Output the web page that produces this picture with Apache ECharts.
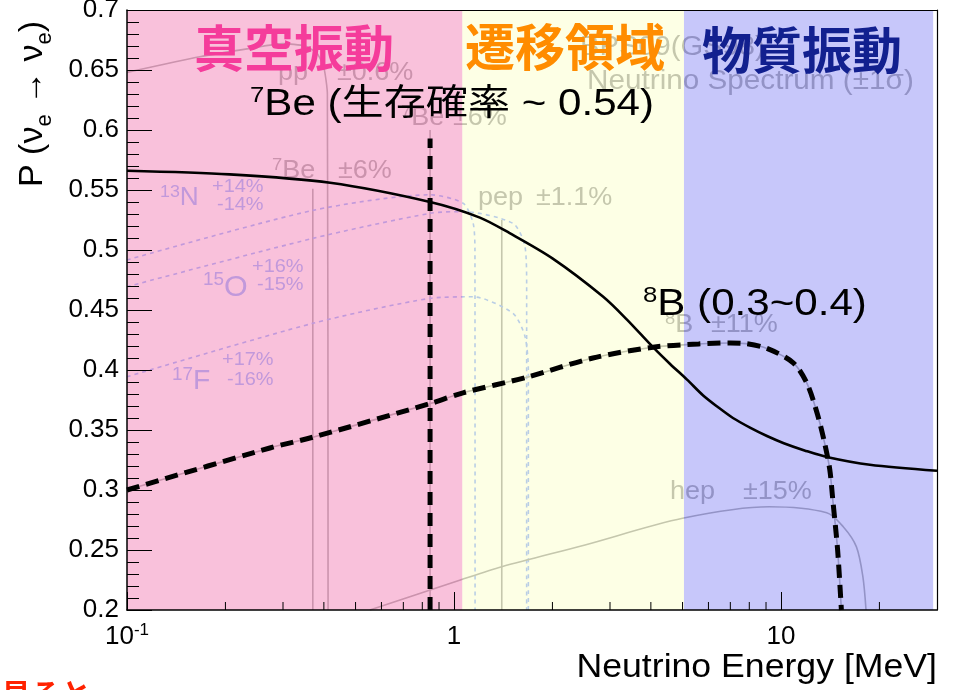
<!DOCTYPE html>
<html>
<head>
<meta charset="utf-8">
<script src="https://cdn.jsdelivr.net/npm/echarts@6/dist/echarts.min.js"></script>
<style>
  html, body { margin: 0; padding: 0; background: #fff; }
  #chart { width: 960px; height: 690px; }
</style>
</head>
<body>
<div id="chart"></div>
<script>
// ---- electron-neutrino survival probability P(νe→νe) vs energy [MeV] ----
const survivalE = [0.1, 0.206, 0.418, 0.845, 1.2, 1.48, 2.0, 2.86, 3.38, 4.06, 4.58, 5.16, 5.77, 6.42, 7.13, 8.04, 9.06, 10.2, 11.8, 13.8, 18.7, 30];
const survivalP = [0.566, 0.563, 0.556, 0.540, 0.527, 0.514, 0.493, 0.461, 0.442, 0.419, 0.405, 0.392, 0.379, 0.369, 0.360, 0.352, 0.345, 0.339, 0.333, 0.3275, 0.321, 0.316];

// 8B spectrum shape (dashed)
const b8E = [0.1, 0.2735, 0.37, 0.845, 1.066, 1.67, 2.66, 4.06, 5.6, 7.0, 7.8, 9.06, 10.9, 12.0, 12.9, 13.6, 14.1, 14.4, 14.9, 15.3];
const b8P = [0.300, 0.335, 0.344, 0.372, 0.381, 0.394, 0.410, 0.419, 0.4217, 0.4225, 0.422, 0.418, 0.406, 0.389, 0.364, 0.339, 0.317, 0.292, 0.250, 0.200];

// 7Be line energy and the height of its marker
const be7E = 0.845;
const be7Span = [0.2, 0.593];

// background spectra (faint)
const ppE = [0.1, 0.167, 0.238, 0.3, 0.35, 0.381, 0.400, 0.410, 0.412];
const ppP = [0.648, 0.661, 0.668, 0.672, 0.670, 0.664, 0.652, 0.630, 0.2];
const be7LowE = 0.37,  be7LowSpan = [0.2, 0.551];
const be7HighSpan = [0.2, 0.600];
const pepE = 1.40,     pepSpan = [0.2, 0.525];
const n13E = [0.1, 0.37, 0.845, 1.066, 1.144, 1.159, 1.16];
const n13P = [0.4917, 0.533, 0.546, 0.539, 0.5225, 0.50, 0.2];
const o15E = [0.1, 0.37, 0.845, 1.066, 1.515, 1.649, 1.668, 1.668];
const o15P = [0.4694, 0.5097, 0.5306, 0.532, 0.5222, 0.5028, 0.47, 0.2];
const f17E = [0.1, 0.37, 0.845, 1.144, 1.515, 1.649, 1.688, 1.688];
const f17P = [0.3944, 0.4389, 0.4597, 0.461, 0.4472, 0.4278, 0.40, 0.2];
const hepE = [0.553, 1.046, 1.40, 2.5, 5.0, 9.2, 13.8, 15.5, 17.0, 17.8, 18.2];
const hepP = [0.2, 0.225, 0.236, 0.254, 0.2764, 0.286, 0.281, 0.2694, 0.2528, 0.2278, 0.2];

// energy regions: vacuum / transition / matter
const regionEdges = [0.1, 1.06, 5.05, 29.2];
const regionColors = ['rgba(240,100,165,0.40)', 'rgba(248,255,160,0.28)', 'rgba(85,85,240,0.33)'];

// axis ticks
const energyMinorTicks = [0.2, 0.3, 0.4, 0.5, 0.6, 0.7, 0.8, 0.9, 2, 3, 4, 5, 6, 7, 8, 9, 20];
const probMin = 0.2, probMax = 0.7, probStep = 0.05;
const energyMin = 0.1, energyMax = 30;

const LATIN = '"Liberation Sans", Arial, Helvetica, sans-serif';
const MIXED = '"Liberation Sans", "Noto Sans CJK JP", sans-serif';
const CJK = '"Noto Sans CJK JP", sans-serif';

const zip = (xs, ys) => xs.map((x, i) => [x, ys[i]]);
const vline = (e, span) => [[e, span[0]], [e, span[1]]];

const FAINT_GRAY = '#b2b2b2';
const FAINT_LAV = '#a2bcff';

function faintLine(data, color, opts) {
  opts = opts || {};
  return {
    type: 'line', data, z: 1, silent: true, symbol: 'none',
    smooth: opts.smooth || 0, animation: false,
    lineStyle: { color, width: opts.width || 1.6, type: opts.dash || 'solid' }
  };
}

// text helper: rich text with optional superscript
function txt(x, y, text, o) {
  const size = o.size;
  const rich = {
    b: { fontSize: size, fontFamily: o.family || LATIN, fontWeight: o.weight || 'normal', fill: o.color, color: o.color, lineHeight: Math.round(size * 1.15) },
    s: { fontSize: o.sup || Math.round(size * 0.62), fontFamily: LATIN, fill: o.color, color: o.color, verticalAlign: 'top', lineHeight: o.sup || Math.round(size * 0.62) }
  };
  return {
    type: 'text', x, y, z: o.z, scaleX: o.sx || 1, silent: true,
    style: {
      text, rich, fill: o.color, fontSize: size, fontFamily: o.family || LATIN, fontWeight: o.weight || 'normal',
      align: o.align || 'left', textAlign: o.align || 'left',
      verticalAlign: 'middle', textVerticalAlign: 'middle'
    }
  };
}

const faint = { color: FAINT_GRAY, size: 25, sup: 17, z: 1, sx: 1.08 };
const lav = { color: FAINT_LAV, size: 25, sup: 17, z: 1, sx: 1.05 };
const lavSmall = { color: FAINT_LAV, size: 19, z: 1, sx: 1.05 };

const graphics = [
  // spectrum annotations (underneath the shaded regions)
  txt(580, 48, '{b|BPS09(GS98)}', Object.assign({}, faint, { size: 27 })),
  txt(587, 82, '{b|Neutrino Spectrum (±1σ)}', Object.assign({}, faint, { size: 27, sx: 1.1 })),
  txt(278, 73, '{b|pp}', faint), txt(337, 73, '{b|±0.6%}', faint),
  txt(401, 118, '{s|7}{b|Be}', faint), txt(453, 118, '{b|±6%}', faint),
  txt(272, 171, '{s|7}{b|Be}', faint), txt(338, 171, '{b|±6%}', faint),
  txt(478, 198, '{b|pep}', faint), txt(536, 198, '{b|±1.1%}', faint),
  txt(665, 325, '{s|8}{b|B}', faint), txt(711, 325, '{b|±11%}', faint),
  txt(670, 492, '{b|hep}', faint), txt(743, 492, '{b|±15%}', faint),
  txt(160, 198, '{s|13}{b|N}', lav),
  txt(212, 187, '{b|+14%}', lavSmall), txt(217, 205, '{b|-14%}', lavSmall),
  txt(203, 288, '{s|15}{b|O}', Object.assign({}, lav, { size: 29, sup: 18 })),
  txt(252, 267, '{b|+16%}', lavSmall), txt(257, 285, '{b|-15%}', lavSmall),
  txt(172, 382, '{s|17}{b|F}', Object.assign({}, lav, { size: 27, sup: 18 })),
  txt(222, 360, '{b|+17%}', lavSmall), txt(227, 380, '{b|-16%}', lavSmall),

  // region titles
  txt(294, 48, '{b|真空振動}', { color: '#F53C9B', size: 50, family: CJK, weight: 'bold', align: 'center', z: 20 }),
  txt(565, 47, '{b|遷移領域}', { color: '#FF8C00', size: 50, family: CJK, weight: 'bold', align: 'center', z: 20 }),
  txt(802, 50, '{b|物質振動}', { color: '#12208F', size: 50, family: CJK, weight: 'bold', align: 'center', z: 20 }),

  // probability notes
  txt(250, 105, '{s|7}{b|Be (生存確率 ~ 0.54)}', { color: '#000', size: 36, sup: 22, family: MIXED, sx: 1.17, z: 20 }),
  txt(643, 305, '{s|8}{b|B (0.3~0.4)}', { color: '#000', size: 36, sup: 22, family: MIXED, sx: 1.17, z: 20 }),

  // axis titles
  {
    type: 'text', x: 937, y: 668, z: 20, scaleX: 1.08, silent: true,
    style: { text: 'Neutrino Energy [MeV]', fill: '#000', fontSize: 33, fontFamily: LATIN,
             align: 'right', textAlign: 'right', verticalAlign: 'middle', textVerticalAlign: 'middle' }
  },
  {
    type: 'text', x: 56, y: 187, z: 20, rotation: Math.PI / 2, silent: true,
    style: {
      text: '{a|P (ν}{e|e}{a| → ν}{e|e}{a|)}', fill: '#000', fontSize: 34, fontFamily: LATIN,
      align: 'left', textAlign: 'left', verticalAlign: 'bottom', textVerticalAlign: 'bottom',
      rich: {
        a: { fontSize: 34, fontFamily: LATIN, fill: '#000', lineHeight: 46 },
        e: { fontSize: 22, fontFamily: LATIN, fill: '#000', lineHeight: 22, verticalAlign: 'bottom' }
      }
    }
  },

  // red heading peeking in at the bottom edge
  txt(1, 694, '{b|見ると}', { color: '#FF2200', size: 30, family: CJK, weight: 'bold', z: 20 })
];

const chart = echarts.init(document.getElementById('chart'), null, { renderer: 'canvas' });

chart.setOption({
  animation: false,
  backgroundColor: '#fff',
  grid: { left: 127, right: 23, top: 10, bottom: 80, containLabel: false, outerBoundsMode: 'none' },
  xAxis: [
    {
      type: 'log', logBase: 10, min: energyMin, max: energyMax, zlevel: 1, z: 10,
      axisLine: { show: true, lineStyle: { color: '#000', width: 1.5 } },
      axisTick: { show: true, inside: true, length: 18, lineStyle: { color: '#000', width: 1 } },
      splitLine: { show: false }, minorTick: { show: false },
      axisLabel: {
        show: true, margin: 12, color: '#000', fontSize: 26, fontFamily: LATIN, lineHeight: 30,
        showMinLabel: true, showMaxLabel: true,
        formatter: v => {
          if (Math.abs(v - 0.1) < 1e-9) return '{m|10}{sup|-1}';
          if (Math.abs(v - 1) < 1e-9) return '{m|1}';
          if (Math.abs(v - 10) < 1e-9) return '{m|10}';
          return '';
        },
        rich: {
          m: { fontSize: 26, fontFamily: LATIN, color: '#000', lineHeight: 30 },
          sup: { fontSize: 17, fontFamily: LATIN, color: '#000', verticalAlign: 'top', lineHeight: 17 }
        }
      }
    },
    {
      type: 'log', logBase: 10, min: energyMin, max: energyMax, position: 'top', zlevel: 1, z: 10,
      axisLine: { show: true, lineStyle: { color: '#000', width: 1 } },
      axisTick: { show: false }, axisLabel: { show: false }, splitLine: { show: false }
    }
  ],
  yAxis: [
    {
      type: 'value', min: probMin, max: probMax, interval: probStep, zlevel: 1, z: 10,
      axisLine: { show: true, lineStyle: { color: '#000', width: 1.5 } },
      axisTick: { show: true, inside: true, length: 25, lineStyle: { color: '#000', width: 1 } },
      minorTick: { show: true, splitNumber: 5, length: 12, lineStyle: { color: '#000', width: 1 } },
      splitLine: { show: false }, minorSplitLine: { show: false },
      axisLabel: {
        margin: 8, color: '#000', fontSize: 26, fontFamily: LATIN, padding: [10, 0, 0, 0],
        formatter: v => String(parseFloat(v.toFixed(2)))
      }
    },
    {
      type: 'value', min: probMin, max: probMax, position: 'right', zlevel: 1, z: 10,
      axisLine: { show: true, lineStyle: { color: '#000', width: 1.2 } },
      axisTick: { show: false }, axisLabel: { show: false }, splitLine: { show: false }
    }
  ],
  graphic: { elements: graphics },
  series: [
    // faint solar-neutrino spectra
    faintLine(zip(ppE, ppP), FAINT_GRAY, { smooth: 0.2 }),
    faintLine(vline(be7LowE, be7LowSpan), FAINT_GRAY),
    faintLine(vline(be7E, be7HighSpan), FAINT_GRAY),
    faintLine(vline(pepE, pepSpan), FAINT_GRAY),
    faintLine(zip(n13E, n13P), FAINT_LAV, { smooth: 0.25, dash: [4, 4] }),
    faintLine(zip(o15E, o15P), FAINT_LAV, { smooth: 0.25, dash: [4, 4] }),
    faintLine(zip(f17E, f17P), FAINT_LAV, { smooth: 0.25, dash: [4, 4] }),
    faintLine(zip(hepE, hepP), FAINT_GRAY, { smooth: 0.3 }),
    faintLine(zip(b8E, b8P), FAINT_GRAY, { smooth: 0.3 }),

    // shaded energy regions
    {
      type: 'custom', z: 3, silent: true, animation: false,
      data: regionColors.map((c, i) => [regionEdges[i], regionEdges[i + 1], probMax, probMin, i]),
      encode: { x: [0, 1], y: [2, 3] },
      renderItem: (params, api) => {
        const a = api.coord([api.value(0), api.value(2)]);
        const b = api.coord([api.value(1), api.value(3)]);
        return {
          type: 'rect',
          shape: { x: a[0], y: a[1], width: b[0] - a[0], height: b[1] - a[1] },
          style: { fill: regionColors[api.value(4)] }
        };
      }
    },

    // minor ticks of the energy axis
    {
      type: 'custom', zlevel: 1, z: 11, silent: true, animation: false,
      data: energyMinorTicks.map(v => [v, probMin]),
      encode: { x: 0, y: 1 },
      renderItem: (params, api) => {
        const p = api.coord([api.value(0), api.value(1)]);
        return {
          type: 'line',
          shape: { x1: p[0], y1: p[1], x2: p[0], y2: p[1] - 8 },
          style: { stroke: '#000', lineWidth: 1 }
        };
      }
    },

    // survival probability
    {
      type: 'line', name: 'P(νe→νe)', z: 6, silent: true, symbol: 'none', smooth: 0.3,
      data: zip(survivalE, survivalP),
      lineStyle: { color: '#000', width: 2.6 }
    },
    // 8B spectrum
    {
      type: 'line', name: '8B', z: 6, silent: true, symbol: 'none', smooth: 0.3,
      data: zip(b8E, b8P),
      lineStyle: { color: '#000', width: 5, type: [13, 7] }
    },
    // 7Be line
    {
      type: 'line', name: '7Be', z: 6, silent: true, symbol: 'none',
      data: vline(be7E, be7Span),
      lineStyle: { color: '#000', width: 5, type: [13, 8] }
    }
  ]
});
</script>
</body>
</html>
